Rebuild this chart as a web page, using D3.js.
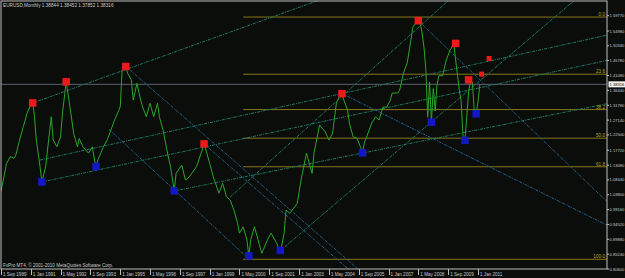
<!DOCTYPE html>
<html>
<head>
<meta charset="utf-8">
<script src="https://cdn.jsdelivr.net/npm/d3@7"></script>
<style>
html, body { margin: 0; padding: 0; background: #0b0d0b; }
svg { display: block; }
text { font-family: "Liberation Sans", Arial, sans-serif; }
</style>
</head>
<body>
<svg id="chart" width="625" height="278"></svg>
<script>
// monthly closes (line chart of closes)
const months = ["1989-09","1989-12","1990-02","1990-04","1990-05","1990-07","1990-09","1990-11","1991-01","1991-02",
  "1991-03","1991-04","1991-06","1991-07","1991-09","1991-10","1991-12","1992-01","1992-03","1992-05",
  "1992-06","1992-08","1992-10","1992-12","1993-02","1993-03","1993-05","1993-08","1993-10","1993-12",
  "1994-01","1994-04","1994-06","1994-08","1994-10","1995-01","1995-02","1995-04","1995-05","1995-07",
  "1995-08","1995-10","1995-12","1996-01","1996-03","1996-05","1996-07","1996-09","1996-10","1996-12",
  "1997-02","1997-04","1997-06","1997-07","1997-10","1997-12","1998-02","1998-06","1998-09","1998-10",
  "1998-11","1999-01","1999-03","1999-06","1999-08","1999-10","1999-12","2000-02","2000-04","2000-05",
  "2000-07","2000-09","2000-10","2000-11","2001-01","2001-03","2001-05","2001-08","2001-10","2002-01",
  "2002-03","2002-05","2002-06","2002-08","2002-12","2003-02","2003-05","2003-08","2003-09","2003-12",
  "2004-03","2004-05","2004-06","2004-07","2004-09","2004-11","2004-12","2005-01","2005-03","2005-04",
  "2005-06","2005-08","2005-10","2005-11","2005-12","2006-02","2006-04","2006-06","2006-08","2006-10",
  "2006-12","2007-02","2007-03","2007-06","2007-07","2007-09","2007-11","2008-01","2008-02","2008-05",
  "2008-06","2008-07","2008-08","2008-09","2008-10","2008-11","2008-12","2009-01","2009-02","2009-03",
  "2009-04","2009-06","2009-08","2009-10","2009-12","2010-01","2010-02","2010-03","2010-04","2010-05",
  "2010-06","2010-07","2010-08","2010-09","2010-10","2010-11","2010-12","2011-01","2011-02"];
const closes = [1.048,1.136,1.157,1.152,1.162,1.209,1.251,1.293,1.319,1.330,
  1.282,1.209,1.126,1.078,1.126,1.178,1.282,1.209,1.188,1.219,
  1.293,1.391,1.313,1.230,1.188,1.214,1.188,1.168,1.188,1.122,
  1.147,1.188,1.209,1.240,1.272,1.313,1.428,1.440,1.418,1.397,
  1.334,1.386,1.334,1.313,1.282,1.324,1.282,1.324,1.282,1.240,
  1.178,1.126,1.050,1.105,1.131,1.084,1.094,1.126,1.178,1.200,
  1.178,1.136,1.094,1.043,1.074,1.032,1.022,0.990,0.949,0.918,
  0.938,0.897,0.846,0.897,0.938,0.897,0.855,0.897,0.918,0.886,
  0.858,0.918,0.990,0.980,1.011,1.084,1.168,1.105,1.168,1.256,
  1.235,1.209,1.219,1.231,1.325,1.350,1.356,1.334,1.303,1.262,
  1.219,1.215,1.187,1.169,1.200,1.231,1.262,1.281,1.272,1.312,
  1.312,1.334,1.356,1.356,1.365,1.418,1.450,1.522,1.562,1.584,
  1.575,1.544,1.500,1.430,1.280,1.390,1.265,1.370,1.300,1.380,
  1.410,1.410,1.459,1.490,1.511,1.459,1.410,1.365,1.330,1.220,
  1.210,1.280,1.360,1.395,1.390,1.300,1.287,1.330,1.383];

// swing markers
const peakMonths = ["1991-02","1992-08","1995-04","1998-10","2004-12","2008-05","2010-01","2010-08","2011-03","2011-07"];
const peakPrices = [1.325,1.391,1.439,1.197,1.354,1.582,1.511,1.397,1.415,1.464];
const troughMonths = ["1991-07","1993-12","1997-06","2000-10","2002-03","2005-11","2008-12","2010-06","2010-12"];
const troughPrices = [1.078,1.126,1.050,0.847,0.864,1.169,1.265,1.208,1.291];

// trend lines: start anchor, second anchor, ray or not
const trendFrom = [["1991-02",1.325],["1991-06",1.1466],["1991-07",1.0779],["1997-06",1.0498],
  ["1995-04",1.4394],["1994-07",1.2429],["1998-10",1.1966],["2002-03",0.8638],
  ["1999-12",1.031],["2004-12",1.3544],["2008-05",1.5819]];
const trendTo = [["1998-08",1.513],["2004-12",1.3544],["1998-10",1.187],["2005-11",1.1685],
  ["2004-01",0.9054],["2000-10",0.8373],["2004-01",0.8785],["2008-12",1.2654],
  ["2004-06",1.3141],["2010-04",1.1694],["2010-12",1.4088]];
const trendRay = [true,true,true,true,true,false,true,true,true,true,true];
const trendRising = [true,true,true,true,false,false,false,true,true,false,false];

// fibonacci retracement
const fibLevels = [0, 23.6, 38.2, 50.0, 61.8, 100.0];
const fibHigh = 1.5935, fibLow = 0.8363, fibStart = "2000-07";

// axes
const priceTicks = [1.5977,1.5498,1.5034,1.4578,1.4108,1.3644,1.3178,1.2714,1.2250,1.1772,
  1.1308,1.0844,1.0380,0.9916,0.9452,0.8988,0.8524,0.8060];
const dateTicks = ["1989-09","1991-01","1992-05","1993-09","1995-01","1996-05","1997-09","1999-01","2000-05",
  "2001-09","2003-01","2004-05","2005-09","2007-01","2008-05","2009-09","2011-01"];
const lastPrice = 1.38316;
const title = "EURUSD,Monthly  1.38844 1.38452 1.37852 1.38316";
const footer = "FxPro MT4, \u00a9 2001-2010 MetaQuotes Software Corp.";

const parse = d3.timeParse("%Y-%m");
const svg = d3.select("#chart");
const L = 1, R = 607, T = 1, B = 269;

const x = d3.scaleTime().domain([parse("1989-09"), parse("2011-01")]).range([1, 478]);
const y = d3.scaleLinear().domain([0.806, 1.5977]).range([269, 15.7]);

svg.append("rect").attr("width", 625).attr("height", 278).attr("fill", "#0b0d0b");

svg.append("defs").append("clipPath").attr("id", "plot")
  .append("rect").attr("x", L).attr("y", T).attr("width", R - L).attr("height", B - T);

const plot = svg.append("g").attr("clip-path", "url(#plot)");

// fib levels
const fibY = lv => y(fibHigh - (fibHigh - fibLow) * lv / 100);
plot.selectAll(".fib").data(fibLevels).enter().append("line")
  .attr("x1", x(parse(fibStart))).attr("x2", R)
  .attr("y1", fibY).attr("y2", fibY)
  .attr("stroke", "#86771a").attr("stroke-width", 1);

// current price line
plot.append("line").attr("x1", L).attr("x2", R)
  .attr("y1", y(lastPrice)).attr("y2", y(lastPrice))
  .attr("stroke", "#5d5e6c").attr("stroke-width", 1);

// trend lines
trendFrom.forEach((a, i) => {
  const b = trendTo[i];
  const x1 = x(parse(a[0])), y1 = y(a[1]);
  let x2 = x(parse(b[0])), y2 = y(b[1]);
  if (trendRay[i]) {
    const k = (y2 - y1) / (x2 - x1);
    x2 = R + 5; y2 = y1 + k * (x2 - x1);
  }
  plot.append("line").attr("x1", x1).attr("y1", y1).attr("x2", x2).attr("y2", y2)
    .attr("stroke", trendRising[i] ? "#1e7a64" : "#225f88")
    .attr("stroke-width", 1).attr("stroke-dasharray", "3,1,1,1");
});

// price line
const series = months.map((m, i) => ({ d: parse(m), v: closes[i] }));
plot.append("path").datum(series)
  .attr("fill", "none").attr("stroke", "#2aa52a").attr("stroke-width", 1)
  .attr("d", d3.line().x(p => x(p.d)).y(p => y(p.v)));

// markers
const lastDate = parse(months[months.length - 1]);
function markers(ms, ps, color) {
  plot.selectAll(null).data(ms.map((m, i) => ({ d: parse(m), v: ps[i] }))).enter().append("rect")
    .each(function (p) {
      const s = p.d > lastDate ? 5 : 7.5;
      d3.select(this).attr("x", x(p.d) - s / 2).attr("y", y(p.v) - s / 2)
        .attr("width", s).attr("height", s);
    })
    .attr("fill", color);
}
markers(peakMonths, peakPrices, "#ec1a1a");
markers(troughMonths, troughPrices, "#1218c4");

// fib labels
svg.selectAll(".fibl").data(fibLevels).enter().append("text")
  .attr("x", R - 2).attr("y", d => fibY(d) - 1)
  .attr("text-anchor", "end").attr("font-size", 4.6).attr("fill", "#b8a42a")
  .text(d => d.toFixed(1));

// frame
svg.append("rect").attr("x", L).attr("y", T).attr("width", R - L).attr("height", B - T)
  .attr("fill", "none").attr("stroke", "#bdbdbd").attr("stroke-width", 1);

// price axis
svg.selectAll(".pt").data(priceTicks).enter().append("text")
  .attr("x", 609.5).attr("y", d => y(d)).attr("dy", "0.35em")
  .attr("font-size", 4.4).attr("fill", "#c8c8c8")
  .attr("textLength", 14.8).attr("lengthAdjust", "spacingAndGlyphs")
  .text(d => d.toFixed(5));
svg.selectAll(".ptk").data(priceTicks).enter().append("line")
  .attr("x1", R).attr("x2", R + 2).attr("y1", d => y(d)).attr("y2", d => y(d))
  .attr("stroke", "#bdbdbd");

// current price box
svg.append("rect").attr("x", 608.5).attr("y", y(lastPrice) - 3).attr("width", 16.5).attr("height", 6)
  .attr("fill", "#f4f4f4");
svg.append("text").attr("x", 609.5).attr("y", y(lastPrice)).attr("dy", "0.35em")
  .attr("font-size", 4.4).attr("fill", "#000")
  .attr("textLength", 14.8).attr("lengthAdjust", "spacingAndGlyphs")
  .text(lastPrice.toFixed(5));

// date axis
const fmt = d3.timeFormat("%-d %b %Y");
svg.selectAll(".dt").data(dateTicks).enter().append("line")
  .attr("x1", d => Math.round(x(parse(d))) + 0.5).attr("x2", d => Math.round(x(parse(d))) + 0.5)
  .attr("y1", B).attr("y2", B + 6).attr("stroke", "#bdbdbd");
svg.selectAll(".dl").data(dateTicks).enter().append("text")
  .attr("x", d => x(parse(d)) + 2).attr("y", 276)
  .attr("font-size", 4.6).attr("fill", "#c8c8c8")
  .text(d => fmt(parse(d)));

// title and footer
svg.append("text").attr("x", 3).attr("y", 7).attr("font-size", 4.7).attr("fill", "#c8c8c8").text(title);
svg.append("text").attr("x", 3).attr("y", 267).attr("font-size", 4.6).attr("fill", "#c8c8c8").text(footer);
</script>
</body>
</html>
